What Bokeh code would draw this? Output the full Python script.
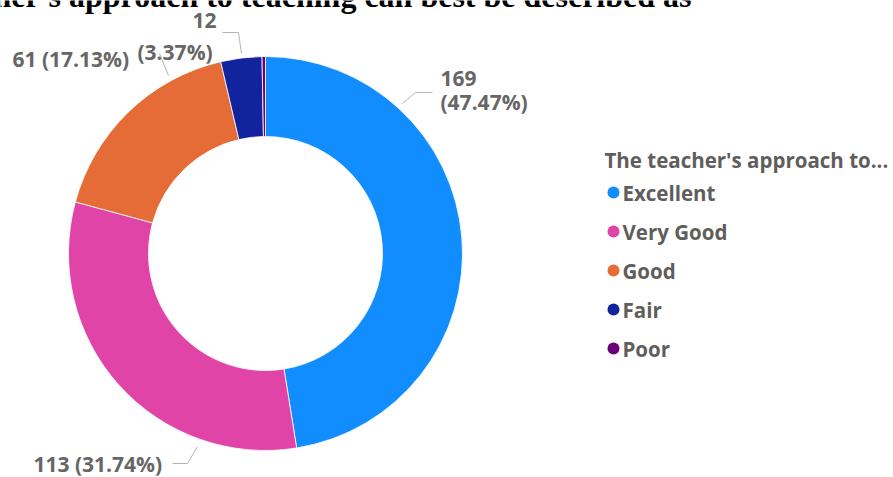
import math
from bokeh.plotting import figure
from bokeh.models import Range1d, ColumnDataSource
from bokeh.core.properties import value
from bokeh.embed import file_html
from bokeh.resources import INLINE

# ---- data ----
categories = ["Excellent", "Very Good", "Good", "Fair", "Poor"]
counts = [169, 113, 61, 12, 1]
colors = ["#118DFF", "#E044A7", "#E66C37", "#12239E", "#6B007B"]
legend_title = "The teacher's approach to..."
chart_title = "The teacher's approach to teaching can best be described as"

W, H = 893, 477
FONT = "Open Sans"
LABEL_COLOR = "#666666"


def Y(img_y):
    return H - img_y


p = figure(width=W, height=H, x_range=Range1d(0, W), y_range=Range1d(0, H),
           output_backend="svg", toolbar_location=None, min_border=0,
           x_axis_type=None, y_axis_type=None)
p.grid.visible = False
p.outline_line_color = None

# ---- donut ----
total = sum(counts)
cx, cy = 265, Y(253)
r_out, r_in = 197, 117
starts, ends = [], []
cum = 0
for c in counts:
    starts.append(math.pi / 2 - 2 * math.pi * cum / total)
    cum += c
    ends.append(math.pi / 2 - 2 * math.pi * cum / total)

src = ColumnDataSource(dict(cat=categories, count=counts, color=colors,
                            start=starts, end=ends))
p.annular_wedge(x=cx, y=cy, inner_radius=r_in, outer_radius=r_out,
                start_angle="start", end_angle="end", direction="clock",
                fill_color="color", line_color="white", line_width=0.8,
                source=src)

# ---- title (cut off at the top) ----
p.text(x=[691], y=[Y(-5)], text=[chart_title], text_align="right",
       text_baseline="alphabetic", text_font=value("Liberation Serif"),
       text_font_style="bold", text_font_size="32px", text_color="black")

# ---- data labels ----
pct = [f"({c / total * 100:.2f}%)" for c in counts]
lab_x = [440, 440, 33, 12, 192, 137]
lab_y = [78, 101, 463, 58, 20, 51]
lab_t = [str(counts[0]), pct[0],
         f"{counts[1]} {pct[1]}",
         f"{counts[2]} {pct[2]}",
         str(counts[3]), pct[3]]
p.text(x=lab_x, y=[Y(v) for v in lab_y], text=lab_t, text_align="left",
       text_baseline="middle", text_font=value(FONT), text_font_style="bold",
       text_font_size="21px", text_color=LABEL_COLOR)

# leader lines
leaders_x = [[402, 415, 432], [172, 187, 197], [159, 168], [222, 238, 241]]
leaders_y = [[103, 92, 92], [463, 463, 446], [53, 75], [32, 32, 53]]
p.multi_line(xs=leaders_x, ys=[[Y(v) for v in ys] for ys in leaders_y],
             line_color="#b3b3b3", line_width=1)

# ---- legend ----
p.text(x=[604], y=[Y(159)], text=[legend_title], text_align="left",
       text_baseline="middle", text_font=value(FONT), text_font_style="bold",
       text_font_size="20.5px", text_color="#605E5C")
row_y = [Y(192 + 39 * i) for i in range(len(categories))]
p.scatter(x=[613] * len(categories), y=row_y, size=12, marker="circle",
          fill_color=colors, line_color=None)
p.text(x=[622] * len(categories), y=row_y, text=categories, text_align="left",
       text_baseline="middle", text_font=value(FONT), text_font_style="bold",
       text_font_size="20.5px", text_color="#605E5C")

open("out.html", "w").write(file_html(p, INLINE))
